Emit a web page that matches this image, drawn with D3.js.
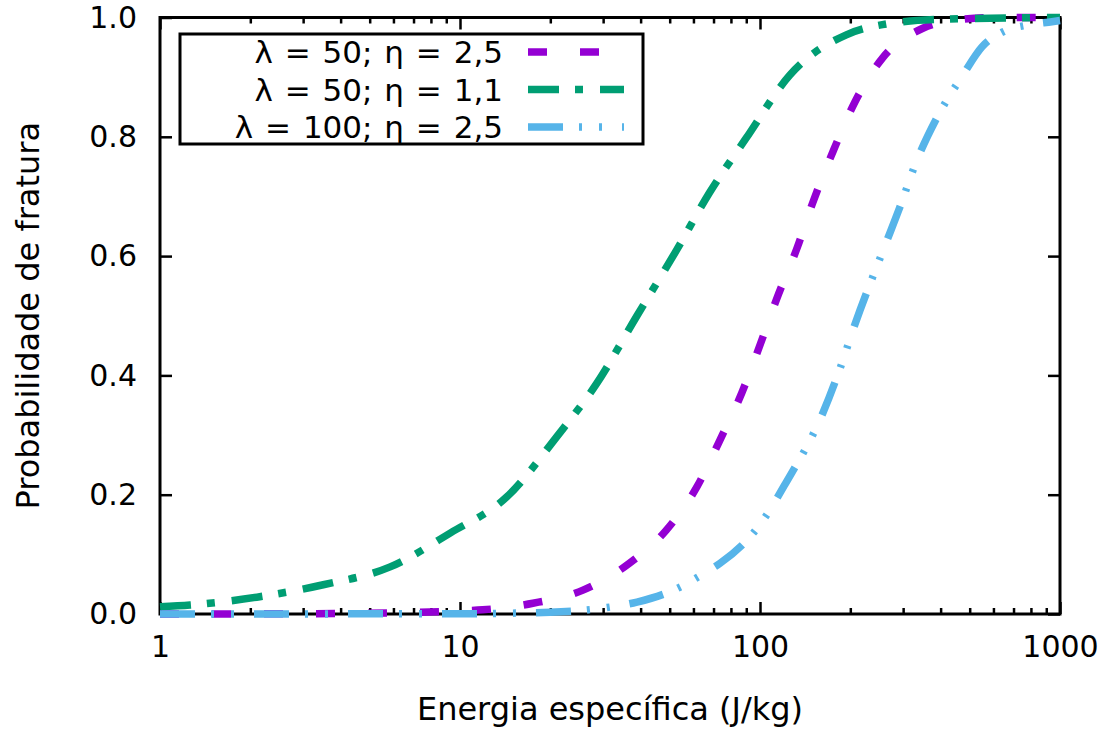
<!DOCTYPE html>
<html>
<head>
<meta charset="utf-8">
<script src="https://cdn.jsdelivr.net/npm/d3@7"></script>
<style>
  html, body { margin: 0; padding: 0; background: #ffffff; }
  svg { display: block; }
  text { font-family: "DejaVu Sans", sans-serif; fill: #000; }
</style>
</head>
<body>
<svg id="chart" width="1111" height="731"></svg>
<script>
// Specific energy (J/kg) and fracture probability for each parameter set
const energyA = [1, 3, 6, 10, 11.9, 17.5, 25.7, 36.7, 48.8, 61.6, 73.6, 87, 100, 114, 133, 150, 175, 207, 256, 349, 450, 600, 1000];
const probA   = [0, 0.0005, 0.002, 0.005, 0.007, 0.018, 0.04, 0.085, 0.141, 0.213, 0.292, 0.371, 0.451, 0.53, 0.614, 0.69, 0.775, 0.858, 0.932, 0.982, 0.996, 1.0, 1.0];

const energyB = [1, 1.26, 2.15, 3.5, 5.85, 9.3, 14.3, 21, 28.6, 38.9, 52, 68, 90, 126, 194, 256, 400, 1000];
const probB   = [0.012, 0.015, 0.029, 0.049, 0.079, 0.136, 0.196, 0.297, 0.387, 0.5, 0.605, 0.707, 0.798, 0.904, 0.971, 0.988, 0.997, 1.0];

const energyC = [1, 10, 20, 30, 38.9, 51.5, 68, 73.6, 101, 122, 162, 184, 207, 264, 292, 333, 387, 475, 550, 640, 795, 940, 1000];
const probC   = [0, 0.0005, 0.003, 0.01, 0.02, 0.04, 0.074, 0.085, 0.153, 0.22, 0.337, 0.409, 0.485, 0.624, 0.681, 0.76, 0.83, 0.904, 0.951, 0.975, 0.988, 0.993, 0.995];

const seriesLabels = ["λ = 50; η = 2,5", "λ = 50; η = 1,1", "λ = 100; η = 2,5"];
const seriesColors = ["#9400d3", "#009e73", "#56b4e9"];
const seriesDashes = ["19 33", "31 16 8 17", "35 16 3 17 3 20"];

const xTicks = [1, 10, 100, 1000];
const yTicks = [0, 0.2, 0.4, 0.6, 0.8, 1.0];
const xTitle = "Energia específica (J/kg)";
const yTitle = "Probabilidade de fratura";

const series = [
  { label: seriesLabels[0], color: seriesColors[0], dash: seriesDashes[0], pts: d3.zip(energyA, probA) },
  { label: seriesLabels[1], color: seriesColors[1], dash: seriesDashes[1], pts: d3.zip(energyB, probB) },
  { label: seriesLabels[2], color: seriesColors[2], dash: seriesDashes[2], pts: d3.zip(energyC, probC) }
];

const svg = d3.select("#chart");
const plotLeft = 160, plotRight = 1060, plotTop = 17.5, plotBottom = 614;

const x = d3.scaleLog().domain([1, 1000]).range([plotLeft, plotRight]);
const y = d3.scaleLinear().domain([0, 1]).range([plotBottom, plotTop]);

const tickFont = 30;
const legendFont = 31;
const titleFont = 32;
const minorTicks = [];
for (let d = 1; d < 1000; d *= 10) for (let k = 2; k <= 9; k++) minorTicks.push(d * k);

function styleAxis(g) {
  g.select(".domain").remove();
  g.selectAll(".tick line").attr("stroke", "#000").attr("stroke-width", 2.5);
  g.selectAll("text").style("font-size", tickFont + "px").style("font-family", "DejaVu Sans");
}

// Bottom axis: major and minor ticks pointing inward
svg.append("g").attr("transform", `translate(0,${plotBottom})`)
  .call(d3.axisBottom(x).tickValues(xTicks).tickFormat(d3.format("d")).tickSize(-12).tickPadding(22))
  .call(styleAxis);
svg.append("g").attr("transform", `translate(0,${plotBottom})`)
  .call(d3.axisBottom(x).tickValues(minorTicks).tickFormat("").tickSize(-6))
  .call(styleAxis);

// Mirrored top axis
svg.append("g").attr("transform", `translate(0,${plotTop})`)
  .call(d3.axisTop(x).tickValues(xTicks).tickFormat("").tickSize(-12))
  .call(styleAxis);
svg.append("g").attr("transform", `translate(0,${plotTop})`)
  .call(d3.axisTop(x).tickValues(minorTicks).tickFormat("").tickSize(-6))
  .call(styleAxis);

// Left and mirrored right axes
svg.append("g").attr("transform", `translate(${plotLeft},0)`)
  .call(d3.axisLeft(y).tickValues(yTicks).tickFormat(d3.format(".1f")).tickSize(-12).tickPadding(23))
  .call(styleAxis);
svg.append("g").attr("transform", `translate(${plotRight},0)`)
  .call(d3.axisRight(y).tickValues(yTicks).tickFormat("").tickSize(-12))
  .call(styleAxis);

// Plot frame
svg.append("rect")
  .attr("x", plotLeft).attr("y", plotTop)
  .attr("width", plotRight - plotLeft).attr("height", plotBottom - plotTop)
  .attr("fill", "none").attr("stroke", "#000").attr("stroke-width", 3);

// Curves
const line = d3.line()
  .x(d => x(d[0]))
  .y(d => y(d[1]))
  .curve(d3.curveMonotoneX);

svg.append("g").selectAll("path")
  .data(series)
  .join("path")
  .attr("d", d => line(d.pts))
  .attr("fill", "none")
  .attr("stroke", d => d.color)
  .attr("stroke-width", 7.5)
  .attr("stroke-dasharray", d => d.dash)
  .attr("stroke-linecap", "butt");

// Legend
const legend = svg.append("g");
legend.append("rect")
  .attr("x", 180).attr("y", 34).attr("width", 463).attr("height", 110)
  .attr("fill", "#fff").attr("stroke", "#000").attr("stroke-width", 3);

const rowY = [52, 89.5, 127];
const rows = legend.selectAll("g.row").data(series).join("g").attr("class", "row");
rows.append("text")
  .attr("x", 503)
  .attr("y", (d, i) => rowY[i])
  .attr("dy", "0.36em")
  .attr("text-anchor", "end")
  .style("font-size", legendFont + "px")
  .style("word-spacing", "2px")
  .text(d => d.label);
rows.append("line")
  .attr("x1", 528).attr("x2", 624)
  .attr("y1", (d, i) => rowY[i]).attr("y2", (d, i) => rowY[i])
  .attr("stroke", d => d.color)
  .attr("stroke-width", 7.5)
  .attr("stroke-dasharray", d => d.dash);

// Axis titles
svg.append("text")
  .attr("x", (plotLeft + plotRight) / 2)
  .attr("y", 720)
  .attr("text-anchor", "middle")
  .style("font-size", titleFont + "px")
  .text(xTitle);

svg.append("text")
  .attr("transform", `translate(39,${(plotTop + plotBottom) / 2}) rotate(-90)`)
  .attr("text-anchor", "middle")
  .style("font-size", titleFont + "px")
  .text(yTitle);
</script>
</body>
</html>
